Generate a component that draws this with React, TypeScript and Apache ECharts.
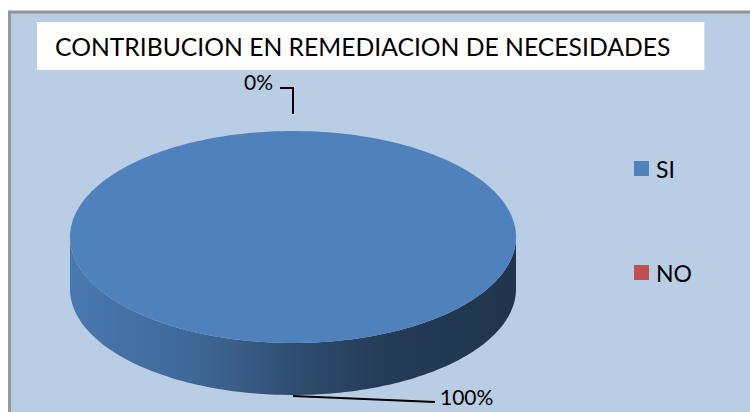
import React, { useEffect, useRef } from "react";
import * as echarts from "echarts";

const TITLE = "CONTRIBUCION EN REMEDIACION DE NECESIDADES";
const categories = ["SI", "NO"];
const values = [100, 0];
const colors = ["#4F81BD", "#C0504D"];

const CX = 293;
const CY = 237;
const RX = 223;
const RY = 106;
const DEPTH = 52;
const FONT = "Lato";

function shade(hex: string, f: number) {
  const n = parseInt(hex.slice(1), 16);
  const r = Math.round(((n >> 16) & 255) * f);
  const g = Math.round(((n >> 8) & 255) * f);
  const b = Math.round((n & 255) * f);
  return `rgb(${r},${g},${b})`;
}

function pt(a: number, dy = 0): number[] {
  const rad = (a * Math.PI) / 180;
  return [CX + RX * Math.sin(rad), CY - RY * Math.cos(rad) + dy];
}

function arc(s: number, e: number, dy = 0): number[][] {
  const out: number[][] = [];
  const steps = Math.max(2, Math.ceil((e - s) / 1.5));
  for (let i = 0; i <= steps; i++) out.push(pt(s + ((e - s) * i) / steps, dy));
  return out;
}

const total = values.reduce((a, b) => a + b, 0);

function makeRender(idx: number) {
  return (params: any, api: any) => {
    const v = api.value(0) as number;
    let before = 0;
    for (let i = 0; i < idx; i++) before += values[i];
    const s = (before / total) * 360;
    const e = s + (v / total) * 360;
    const base = colors[idx];
    const children: any[] = [];
    // side wall (front visible part)
    const ss = Math.max(s, 90);
    const ee = Math.min(e, 270);
    if (ee > ss) {
      const top = arc(ss, ee, 0);
      const bottom = arc(ss, ee, DEPTH).reverse();
      children.push({
        type: "polygon",
        shape: { points: top.concat(bottom) },
        style: {
          fill: {
            type: "linear",
            x: CX - RX,
            y: 0,
            x2: CX + RX,
            y2: 0,
            global: true,
            colorStops: [
              { offset: 0, color: shade(base, 0.93) },
              { offset: 0.3, color: shade(base, 0.79) },
              { offset: 0.5, color: shade(base, 0.6) },
              { offset: 0.72, color: shade(base, 0.45) },
              { offset: 1, color: shade(base, 0.41) },
            ],
          },
        },
      });
    }
    // top face
    if (e - s > 0) {
      const pts = e - s >= 359.999 ? arc(0, 360) : [[CX, CY]].concat(arc(s, e));
      children.push({ type: "polygon", shape: { points: pts }, style: { fill: base } });
    }
    // label with leader line
    const m = (s + e) / 2;
    const rad = (m * Math.PI) / 180;
    const label = Math.round((v / total) * 100) + "%";
    if (Math.cos(rad) >= 0) {
      const p = pt(m);
      children.push({
        type: "polyline",
        shape: { points: [[p[0], p[1] - 17], [p[0], p[1] - 43], [p[0] - 13, p[1] - 43]] },
        style: { stroke: "#000", lineWidth: 2, fill: null },
      });
      children.push({
        type: "text",
        x: p[0] - 20,
        y: p[1] - 50,
        style: {
          text: label,
          fill: "#000",
          font: `21px ${FONT}`,
          align: "right",
          verticalAlign: "middle",
          textAlign: "right",
          textVerticalAlign: "middle",
        },
      });
    } else {
      const p = pt(m, DEPTH);
      children.push({
        type: "polyline",
        shape: { points: [[p[0], p[1] + 1], [p[0] + 142, p[1] + 7]] },
        style: { stroke: "#000", lineWidth: 2, fill: null },
      });
      children.push({
        type: "text",
        x: p[0] + 147,
        y: p[1] + 1,
        style: {
          text: label,
          fill: "#000",
          font: `21px ${FONT}`,
          align: "left",
          verticalAlign: "middle",
          textAlign: "left",
          textVerticalAlign: "middle",
        },
      });
    }
    return { type: "group", children };
  };
}

export default function App() {
  const ref = useRef<HTMLDivElement>(null);
  useEffect(() => {
    if (!ref.current) return;
    const chart = echarts.init(ref.current, null, { renderer: "svg" });
    chart.setOption({
      animation: false,
      backgroundColor: "#ffffff",
      color: colors,
      graphic: [
        {
          type: "rect",
          z: 0,
          shape: { x: 9.5, y: 12, width: 800, height: 450 },
          style: { fill: "#B9CDE5", stroke: "#979797", lineWidth: 3 },
        },
      ],
      title: {
        text: TITLE,
        left: 37,
        top: 22,
        backgroundColor: "#ffffff",
        padding: [9, 34, 9, 18],
        textStyle: {
          fontFamily: FONT,
          fontWeight: "normal",
          fontSize: 24.7,
          lineHeight: 30,
          color: "#000",
        },
      },
      legend: {
        orient: "vertical",
        left: 629,
        top: 152,
        itemWidth: 15,
        itemHeight: 15,
        itemGap: 81,
        icon: "rect",
        data: categories,
        textStyle: {
          fontFamily: FONT,
          fontSize: 23,
          lineHeight: 23,
          color: "#000",
          padding: [0, 0, 0, 2],
        },
      },
      series: categories.map((name, i) => ({
        type: "custom",
        name,
        coordinateSystem: "none",
        renderItem: makeRender(i),
        data: [values[i]],
        z: 2,
      })),
    });
    return () => chart.dispose();
  }, []);
  return <div ref={ref} style={{ position: "fixed", left: 0, top: 0, width: 750, height: 412 }} />;
}
